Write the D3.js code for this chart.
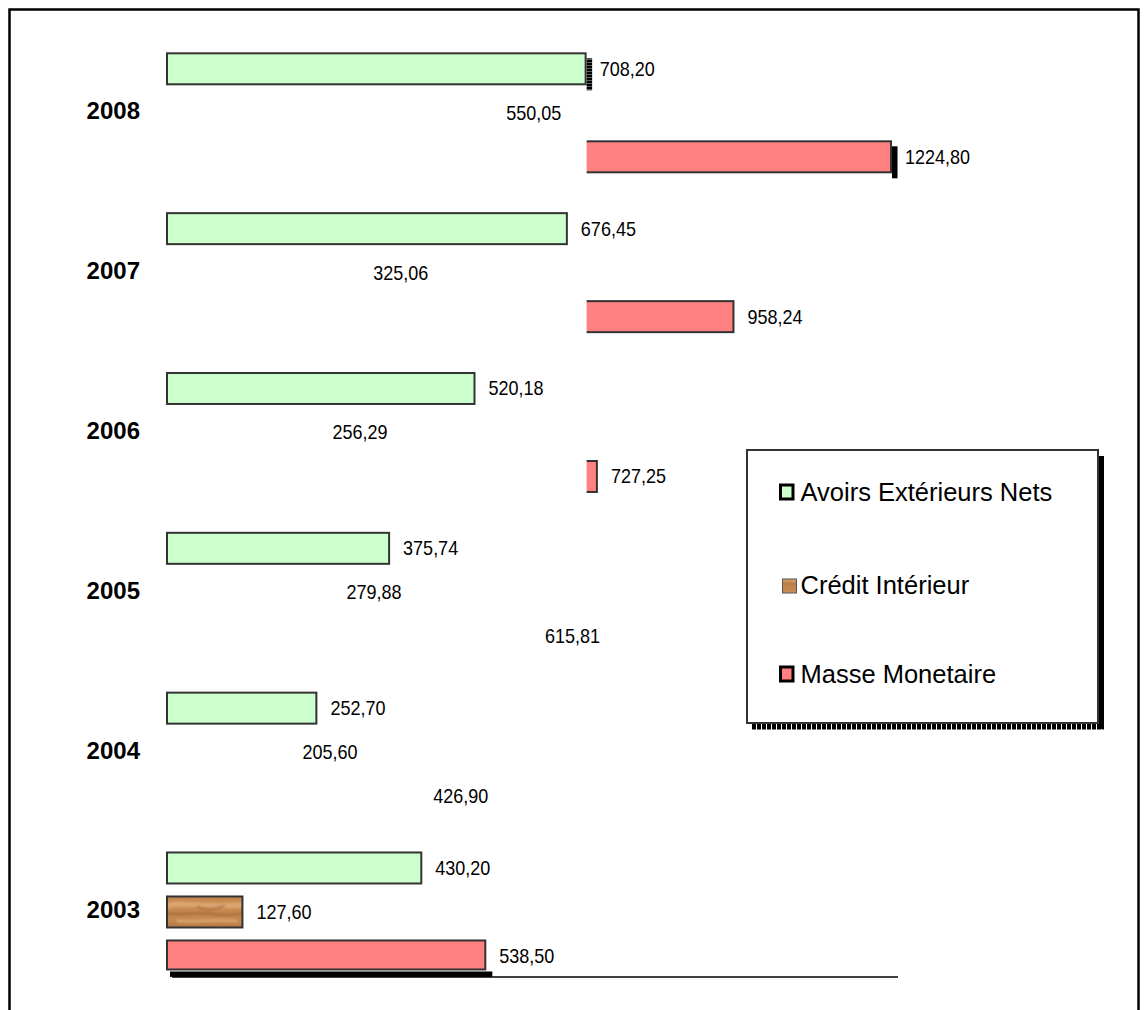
<!DOCTYPE html>
<html>
<head>
<meta charset="utf-8">
<script src="https://cdn.jsdelivr.net/npm/d3@7"></script>
<style>
  html, body { margin: 0; padding: 0; background: #fff; }
  svg { display: block; }
  text { font-family: "Liberation Sans", Arial, sans-serif; fill: #000; }
</style>
</head>
<body>
<svg id="chart" width="1147" height="1010"></svg>
<script>
// Monetary aggregates by year (top to bottom)
const years = ["2008", "2007", "2006", "2005", "2004", "2003"];
const avoirs = [708.20, 676.45, 520.18, 375.74, 252.70, 430.20];
const credit = [550.05, 325.06, 256.29, 279.88, 205.60, 127.60];
const masse  = [1224.80, 958.24, 727.25, 615.81, 426.90, 538.50];
const seriesNames = ["Avoirs Extérieurs Nets", "Crédit Intérieur", "Masse Monetaire"];

const fmt = v => v.toFixed(2).replace(".", ",");

const svg = d3.select("#chart");
const W = 1147, H = 1010;

// outer frame
svg.append("rect")
  .attr("x", 9.5).attr("y", 9.5)
  .attr("width", 1129).attr("height", 1020)
  .attr("fill", "none").attr("stroke", "#000").attr("stroke-width", 2.5);

// wood texture for the Crédit Intérieur series
const defs = svg.append("defs");
const wood = defs.append("pattern")
  .attr("id", "wood")
  .attr("patternUnits", "userSpaceOnUse")
  .attr("width", 80).attr("height", 31);
defs.append("filter").attr("id", "soft")
  .append("feGaussianBlur").attr("stdDeviation", 1.2);
wood.append("rect").attr("width", 80).attr("height", 31).attr("fill", "#C4884F");
const wg = wood.append("g").attr("filter", "url(#soft)");
wg.append("path").attr("d", "M0,6 C20,3 40,9 80,5 L80,11 C50,14 25,8 0,12 Z").attr("fill", "#DCA56F");
wg.append("path").attr("d", "M0,17 C15,20 30,14 50,18 C62,20 72,16 80,18").attr("stroke", "#A56A38").attr("stroke-width", 2).attr("fill", "none");
wg.append("path").attr("d", "M10,24 C25,27 45,22 70,25").attr("stroke", "#D9A36C").attr("stroke-width", 3).attr("fill", "none");
wg.append("path").attr("d", "M30,10 C38,14 48,13 58,9").attr("stroke", "#A36A3A").attr("stroke-width", 1.5).attr("fill", "none");
wg.append("path").attr("d", "M0,28 C20,30 50,27 80,29").attr("stroke", "#B07441").attr("stroke-width", 2).attr("fill", "none");

// hatched shadow edge
const hatch = defs.append("pattern")
  .attr("id", "hatch")
  .attr("patternUnits", "userSpaceOnUse")
  .attr("width", 6).attr("height", 3);
hatch.append("rect").attr("width", 6).attr("height", 2.2).attr("fill", "#000");
hatch.append("rect").attr("y", 2.2).attr("width", 6).attr("height", 0.8).attr("fill", "#444");

const fills = ["#CCFFCC", "url(#wood)", "#FF8080"];

// scales
const x = d3.scaleLinear().domain([0, 1240]).range([167, 900]);
const y = d3.scaleBand().domain(years).range([32.9, 991.9]).padding(0);
const half = y.bandwidth() / 2;
const ys = d3.scaleBand().domain([0, 1, 2])
  .range([half - 66, half + 66])
  .paddingInner(13 / 44).paddingOuter(6.5 / 44);

wood.attr("patternTransform", `translate(${x(0)},${y("2003") + ys(1)})`);

// rows of bar data
const rows = [];
years.forEach((yr, i) => {
  [avoirs[i], credit[i], masse[i]].forEach((v, s) => rows.push({ year: yr, s, v }));
});

// Crédit and Masse bars of the later years only show past the longest Avoirs bar
const cutX = x(d3.max(avoirs)) + 1;
defs.append("clipPath").attr("id", "cut")
  .append("rect").attr("x", cutX).attr("y", 0).attr("width", W - cutX).attr("height", H);
const hidden = d => d.s > 0 && d.year !== years[years.length - 1];

// x axis line
const axisY = y.range()[1] - 15;
svg.append("g")
  .attr("transform", `translate(0,${axisY})`)
  .call(d3.axisBottom(x).tickValues([]).tickSizeOuter(0))
  .call(g => g.select(".domain").attr("stroke", "#000").attr("stroke-width", 1.5)
    .attr("d", `M${x(0) + 5},0H${x.range()[1] - 2}`));

// edge shadows: right edge of the longest Avoirs and Masse bars
const maxA = d3.max(avoirs), maxM = d3.max(masse);
const sideShadow = rows.filter(d => (d.s === 0 && d.v === maxA) || (d.s === 2 && d.v === maxM));
svg.append("g").selectAll("rect").data(sideShadow).join("rect")
  .attr("x", d => x(d.v) + 1)
  .attr("y", d => y(d.year) + ys(d.s) + 5)
  .attr("width", 5.5)
  .attr("height", ys.bandwidth() + 1)
  .attr("fill", d => d.s === 0 ? "url(#hatch)" : "#000");

// bottom shadow of the bar resting on the axis
const lastRow = rows.filter(d => d.s === 2 && d.year === years[years.length - 1]);
svg.append("g").selectAll("rect").data(lastRow).join("rect")
  .attr("x", x(0) + 3)
  .attr("y", d => y(d.year) + ys(d.s) + ys.bandwidth())
  .attr("width", d => x(d.v) - x(0) + 4)
  .attr("height", d => axisY - (y(d.year) + ys(d.s) + ys.bandwidth()))
  .attr("fill", "#000");

// bars
svg.append("g").selectAll("rect").data(rows).join("rect")
  .attr("x", x(0))
  .attr("y", d => y(d.year) + ys(d.s))
  .attr("width", d => x(d.v) - x(0))
  .attr("height", d => ys.bandwidth() - (d === lastRow[0] ? 2 : 0))
  .attr("fill", d => fills[d.s])
  .attr("stroke", "#333")
  .attr("stroke-width", 2)
  .attr("clip-path", d => hidden(d) ? "url(#cut)" : null);

// value labels
svg.append("g").selectAll("text").data(rows).join("text")
  .attr("transform", d => `translate(${x(d.v) + 14},${y(d.year) + ys(d.s) + ys.bandwidth() / 2 + 7}) scale(0.9,1)`)
  .attr("font-size", 20)
  .text(d => fmt(d.v));

// year labels
svg.append("g").selectAll("text").data(years).join("text")
  .attr("x", x(0) - 27)
  .attr("y", d => y(d) + half + 6.5)
  .attr("text-anchor", "end")
  .attr("font-size", 24)
  .attr("font-weight", "bold")
  .text(d => d);

// legend
const lg = svg.append("g");
lg.append("rect").attr("x", 1098).attr("y", 456).attr("width", 6).attr("height", 273).attr("fill", "#000");
lg.append("line").attr("x1", 752).attr("x2", 1104).attr("y1", 726.5).attr("y2", 726.5)
  .attr("stroke", "#000").attr("stroke-width", 6).attr("stroke-dasharray", "4,1");
lg.append("rect").attr("x", 747).attr("y", 450).attr("width", 351).attr("height", 273)
  .attr("fill", "#fff").attr("stroke", "#333").attr("stroke-width", 2);

const legendY = [492, 585, 674];
const items = lg.selectAll("g.item").data(seriesNames).join("g").attr("class", "item");
items.append("rect")
  .attr("x", (d, i) => i === 1 ? 782.5 : 780.5)
  .attr("y", (d, i) => legendY[i] - (i === 1 ? 6 : 7))
  .attr("width", (d, i) => i === 1 ? 14 : 12.5)
  .attr("height", 14)
  .attr("fill", (d, i) => fills[i])
  .attr("stroke", (d, i) => i === 1 ? "#555" : "#000")
  .attr("stroke-width", (d, i) => i === 1 ? 1 : 3);
items.append("text")
  .attr("x", 800.5)
  .attr("y", (d, i) => legendY[i] + 9)
  .attr("font-size", 25.5)
  .text(d => d);
</script>
</body>
</html>
